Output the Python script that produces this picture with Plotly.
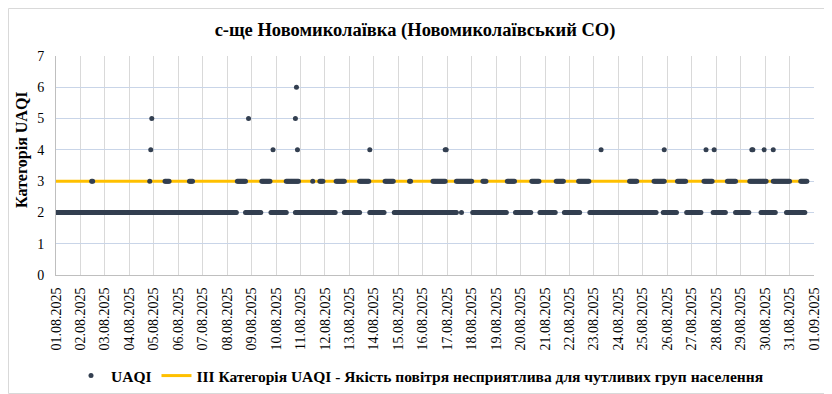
import pandas as pd
import plotly.graph_objects as go

# ---------------- DATA (hours counted from 01.08.2025 00:00) ----------------
series_start = "2025-08-01 00:00"
title_text = "с-ще Новомиколаївка (Новомиколаївський СО)"
y_title = "Категорія UAQI"
uaqi_name = "UAQI"
threshold_name = "ІІІ Категорія UAQI - Якість повітря несприятлива для чутливих груп населення"

# runs of consecutive hourly readings: (first hour, last hour)
level2_runs = [(0, 177), (186, 201), (211, 226), (235, 274), (283, 298), (308, 322),
               (332, 393), (398, 398), (409, 442), (451, 466), (475, 490), (499, 514),
               (524, 589), (596, 609), (619, 633), (645, 657), (667, 680), (692, 706),
               (717, 735)]
level3_runs = [(35, 36), (92, 92), (107, 111), (131, 134), (178, 186), (202, 210),
               (226, 238), (252, 252), (259, 262), (275, 283), (298, 307), (323, 331),
               (347, 348), (370, 382), (393, 408), (419, 422), (443, 450), (467, 474),
               (491, 498), (513, 523), (563, 570), (587, 597), (610, 618), (636, 644),
               (659, 667), (681, 697), (704, 720), (731, 737)]
level4_hours = [93, 213, 237, 308, 382, 383, 535, 597, 638, 646, 683, 684, 695, 704]
level5_hours = [94, 189, 235]
level6_hours = [236]

threshold_value = 3
last_hour = 737

# ---------------- BUILD ----------------
t0 = pd.Timestamp(series_start)
hours, values = [], []
for runs, val in ((level2_runs, 2), (level3_runs, 3)):
    for a, b in runs:
        for h in range(a, b + 1):
            hours.append(h)
            values.append(val)
for hs, val in ((level4_hours, 4), (level5_hours, 5), (level6_hours, 6)):
    for h in hs:
        hours.append(h)
        values.append(val)
times = [t0 + pd.Timedelta(hours=h) for h in hours]

serif = "Liberation Serif"
W, H = 824, 386  # page body adds an 8px offset
PW, PH = 758, 219  # plot area size in px

fig = go.Figure()
fig.add_trace(go.Scatter(
    x=[t0, t0 + pd.Timedelta(hours=last_hour)], y=[threshold_value, threshold_value],
    mode="lines", line=dict(color="#FFC000", width=3),
    name="<b>" + threshold_name + "</b>", legendrank=2, hoverinfo="skip"))
fig.add_trace(go.Scatter(
    x=times, y=values, mode="markers",
    marker=dict(color="#333F50", size=5, line=dict(width=0)),
    name="<b>" + uaqi_name + "</b>", legendrank=1))

fig.update_layout(
    width=W, height=H,
    margin=dict(l=48, r=18, t=48, b=119, autoexpand=False),
    paper_bgcolor="white", plot_bgcolor="white",
    font=dict(family=serif, color="#000000"),
    title=dict(text="<b>" + title_text + "</b>", x=(415 - 8) / W, xref="container",
               xanchor="center", y=1 - 22 / H, yref="container", yanchor="middle",
               font=dict(family=serif, size=18.5, color="#000000")),
    showlegend=True,
    legend=dict(orientation="h", x=(420 - 8) / W, xref="container", xanchor="center",
                y=1 - 368 / H, yref="container", yanchor="middle",
                font=dict(family=serif, size=15.5, color="#000000"),
                traceorder="normal", itemwidth=30, bgcolor="rgba(0,0,0,0)"),
    annotations=[dict(text="<b>" + y_title + "</b>", textangle=-90, showarrow=False,
                      xref="paper", yref="paper", x=(22 - 56) / PW, y=(275 - 150) / PH,
                      xanchor="center", yanchor="middle",
                      font=dict(family=serif, size=16, color="#000000"))],
    shapes=[dict(type="rect", xref="paper", yref="paper",
                 x0=-47.5 / PW, x1=1 + 17.5 / PW, y0=-118.5 / PH, y1=1 + 47.5 / PH,
                 line=dict(color="#d9d9d9", width=1), fillcolor="rgba(0,0,0,0)", layer="below")],
)
fig.update_xaxes(
    type="date", range=[t0, t0 + pd.Timedelta(days=31)], automargin=False,
    tick0=t0, dtick=86400000, tickformat="%d.%m.%Y", tickangle=-90,
    tickfont=dict(family=serif, size=14, color="#000000"),
    showgrid=True, gridcolor="#d9d9d9", gridwidth=1,
    showline=True, linecolor="#bfbfbf", linewidth=1,
    ticks="", ticklabelstandoff=6, zeroline=False, fixedrange=True)
fig.update_yaxes(
    range=[0, 7], dtick=1, tick0=0, automargin=False,
    tickfont=dict(family=serif, size=14, color="#000000"),
    showgrid=True, gridcolor="#c9d5e8", gridwidth=1,
    showline=True, linecolor="#bfbfbf", linewidth=1,
    ticks="", ticklabelstandoff=8, zeroline=False, fixedrange=True)

fig.write_html("out.html")
